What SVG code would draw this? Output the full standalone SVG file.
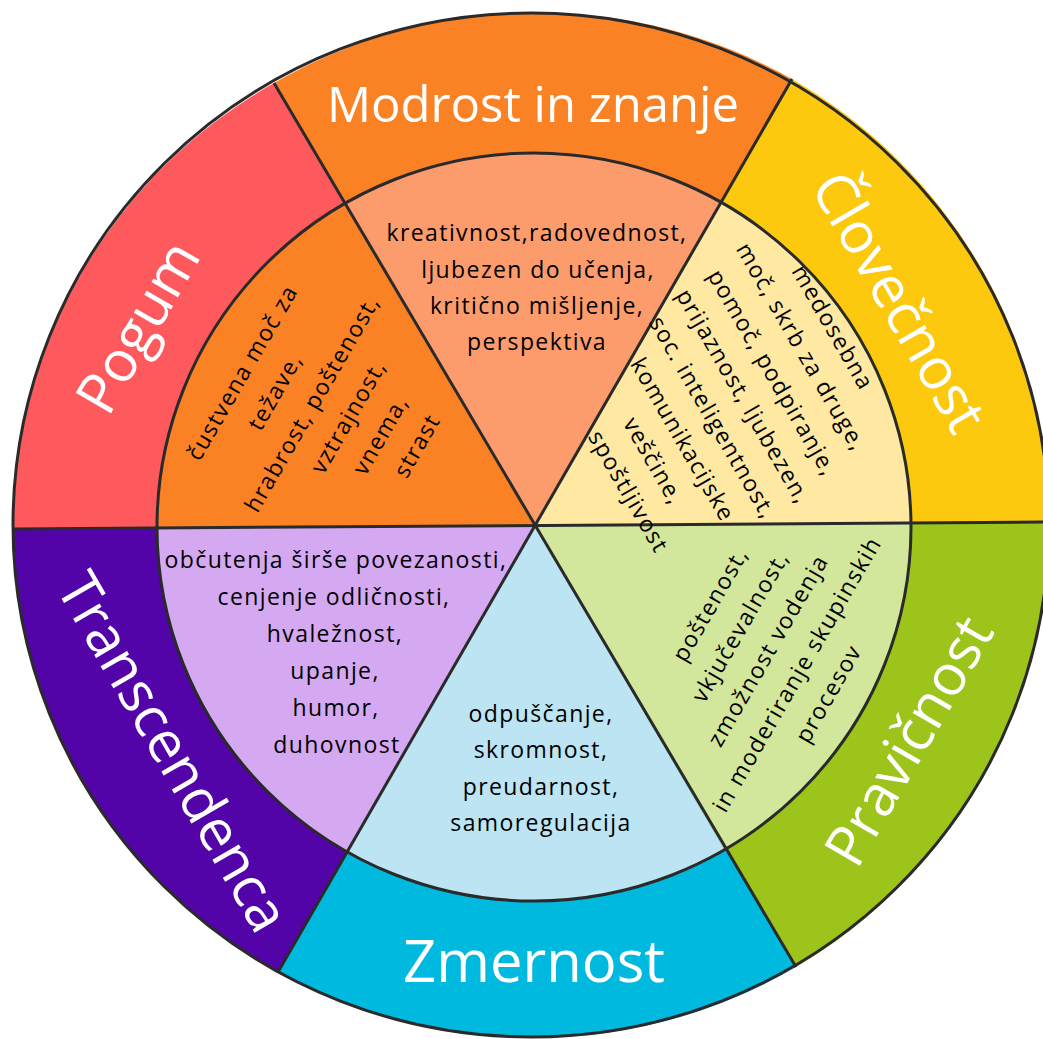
<svg xmlns="http://www.w3.org/2000/svg" width="1043" height="1039" viewBox="0 0 1043 1039">
<style>
.sec{stroke:none}
.edge{fill:none;stroke:#2a2a2a;stroke-width:3}
.big{font-family:"Open Sans","Noto Sans",sans-serif;fill:#ffffff;text-anchor:middle}
.small{font-family:"Open Sans","Noto Sans",sans-serif;font-size:23px;letter-spacing:1.4px;fill:#000000;text-anchor:middle}
</style>
<rect width="1043" height="1039" fill="#ffffff"/>
<g id="outer-ring">
<path id="modrost-outer" class="sec" fill="#FB8224" d="M535,525 L274,83 A518,512 0 0 1 792,79 Z"/>
<path id="clovecnost-outer" class="sec" fill="#FDC90E" d="M535,525 L792,79 A518,512 0 0 1 1049,522 Z"/>
<path id="pravicnost-outer" class="sec" fill="#9DC41A" d="M535,525 L1049,522 A518,512 0 0 1 796,967 Z"/>
<path id="zmernost-outer" class="sec" fill="#00B9DE" d="M535,525 L796,967 A518,512 0 0 1 278,972 Z"/>
<path id="transcendenca-outer" class="sec" fill="#5304A8" d="M535,525 L278,972 A518,512 0 0 1 13,529 Z"/>
<path id="pogum-outer" class="sec" fill="#FE5A5D" d="M535,525 L13,529 A518,512 0 0 1 274,83 Z"/>
</g>
<g id="inner-ring">
<path id="modrost-inner" class="sec" fill="#FC9C6C" d="M535,525 L345,202 A377,374 0 0 1 722,201 Z"/>
<path id="clovecnost-inner" class="sec" fill="#FEE8A2" d="M535,525 L722,201 A377,374 0 0 1 911,523 Z"/>
<path id="pravicnost-inner" class="sec" fill="#D3E79C" d="M535,525 L911,523 A377,374 0 0 1 725,851 Z"/>
<path id="zmernost-inner" class="sec" fill="#BCE4F2" d="M535,525 L725,851 A377,374 0 0 1 347,852 Z"/>
<path id="transcendenca-inner" class="sec" fill="#D5A9F2" d="M535,525 L347,852 A377,374 0 0 1 157,528 Z"/>
<path id="pogum-inner" class="sec" fill="#FB8224" d="M535,525 L157,528 A377,374 0 0 1 345,202 Z"/>
</g>
<g id="connectors">
<ellipse class="edge" cx="531" cy="525" rx="518" ry="512"/>
<ellipse class="edge" cx="534" cy="527" rx="377" ry="374" stroke-width="2.5"/>
<line class="edge" x1="274" y1="83" x2="796" y2="967"/>
<line class="edge" x1="792" y1="79" x2="278" y2="972"/>
<line class="edge" x1="13" y1="529" x2="1049" y2="522" stroke-width="3.5"/>
</g>
<g id="labels-outer">
<text class="big" font-size="49" x="533" y="122">Modrost in znanje</text>
<text class="big" font-size="57" transform="translate(882,312) rotate(60)">Človečnost</text>
<text class="big" font-size="57" transform="translate(926,751) rotate(-60)">Pravičnost</text>
<text class="big" font-size="58" x="534" y="982">Zmernost</text>
<text class="big" font-size="57" transform="translate(156,762) rotate(60)">Transcendenca</text>
<text class="big" font-size="57" transform="translate(155,337) rotate(-60)">Pogum</text>
</g>
<g id="text-modrost">
<text class="small" x="537" y="241">kreativnost,radovednost,</text>
<text class="small" x="538" y="278">ljubezen do učenja,</text>
<text class="small" x="537" y="314">kritično mišljenje,</text>
<text class="small" x="537" y="350">perspektiva</text>
</g>
<g id="text-clovecnost" transform="translate(832,328) rotate(60)">
<text class="small" x="0" y="7">medosebna</text>
<text class="small" x="1" y="44">moč, skrb za druge,</text>
<text class="small" x="9" y="82">pomoč, podpiranje,</text>
<text class="small" x="15" y="119">prijaznost, ljubezen,</text>
<text class="small" x="18" y="156">soc. inteligentnost,</text>
<text class="small" x="22" y="193">komunikacijske</text>
<text class="small" x="26" y="229">veščine,</text>
<text class="small" x="40" y="266">spoštljivost</text>
</g>
<g id="text-pravicnost" transform="translate(711,605) rotate(-60)">
<text class="small" x="0" y="7">poštenost,</text>
<text class="small" x="-4" y="44">vkjučevalnost,</text>
<text class="small" x="-11" y="80">zmožnost vodenja</text>
<text class="small" x="-17" y="117">in moderiranje skupinskih</text>
<text class="small" x="-18" y="154">procesov</text>
</g>
<g id="text-zmernost">
<text class="small" x="541" y="722">odpuščanje,</text>
<text class="small" x="541" y="758">skromnost,</text>
<text class="small" x="541" y="795">preudarnost,</text>
<text class="small" x="541" y="831">samoregulacija</text>
</g>
<g id="text-transcendenca">
<text class="small" x="336" y="568">občutenja širše povezanosti,</text>
<text class="small" x="334" y="605">cenjenje odličnosti,</text>
<text class="small" x="335" y="642">hvaležnost,</text>
<text class="small" x="335" y="679">upanje,</text>
<text class="small" x="336" y="716">humor,</text>
<text class="small" x="337" y="753">duhovnost</text>
</g>
<g id="text-pogum" transform="translate(243,373) rotate(-60)">
<text class="small" x="0" y="7">čustvena moč za</text>
<text class="small" x="0" y="45">težave,</text>
<text class="small" x="8" y="83">hrabrost, poštenost,</text>
<text class="small" x="15" y="121">vztrajnost,</text>
<text class="small" x="15" y="158">vnema,</text>
<text class="small" x="24" y="195">strast</text>
</g>
</svg>
